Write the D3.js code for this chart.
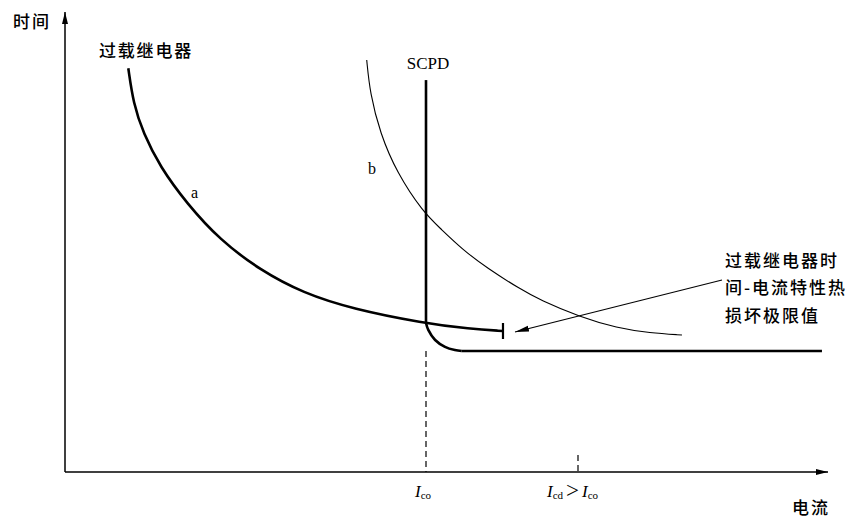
<!DOCTYPE html>
<html><head><meta charset="utf-8">
<script src="https://cdn.jsdelivr.net/npm/d3@7"></script>
<style>
html,body{margin:0;padding:0;background:#fff;}
svg{display:block;}
</style></head>
<body>
<svg id="chart" width="852" height="522"></svg>
<script>
// ---- data (abstract units: current 0..100, time 0..100) ----
const curveA = [[8.33,87.76],[8.99,80.15],[10.30,73.63],[12.50,66.37],[16.01,58.41],[20.39,50.43],[25.66,43.91],[31.32,38.91],[37.89,35.43],[47.11,32.39],[53.29,31.09],[57.63,30.65]];
const curveB = [[39.70,89.57],[40.13,82.39],[41.45,73.70],[43.68,65.00],[47.11,56.52],[49.34,53.04],[52.37,48.26],[55.53,44.35],[59.87,39.78],[62.50,37.39],[67.76,33.70],[72.63,31.30],[76.97,30.22],[81.18,29.78]];
const scpdVertical = [[47.5,85.2],[47.5,32.4]];
const scpdKnee = [[47.5,32.4],[47.8,30.9],[48.7,28.7],[50.0,27.2],[51.3,26.5],[52.2,26.3]];
const scpdFlat = [[52.2,26.3],[99.6,26.3]];
const Ico = 47.5, Icd = 67.5;
const arrowFrom = [86.45,41.74], arrowTo = [59.21,30.43];
const yLabel = "时间", xLabel = "电流";
const relayLabel = "过载继电器";
const noteLines = ["过载继电器时","间-电流特性热","损坏极限值"];

const svg = d3.select("#chart");
const x = d3.scaleLinear().domain([0,100]).range([65,825]);
const y = d3.scaleLinear().domain([0,100]).range([472,12]);
const cn = "'Noto Sans CJK SC','Noto Sans',sans-serif";
const serif = "'Liberation Serif','DejaVu Serif',serif";

const defs = svg.append("defs");
defs.append("marker").attr("id","ax").attr("viewBox","0 0 12 8").attr("refX",12).attr("refY",4)
  .attr("markerWidth",12).attr("markerHeight",8).attr("markerUnits","userSpaceOnUse").attr("orient","auto")
  .append("path").attr("d","M0,1 L12,4 L0,7 Z").attr("fill","#000");
defs.append("marker").attr("id","ar").attr("viewBox","0 0 14 8").attr("refX",14).attr("refY",4)
  .attr("markerWidth",14).attr("markerHeight",8).attr("markerUnits","userSpaceOnUse").attr("orient","auto")
  .append("path").attr("d","M0,1 L14,4 L0,7 Z").attr("fill","#000");

// axes
svg.append("line").attr("x1",x(0)).attr("y1",y(0)).attr("x2",x(0)).attr("y2",y(100))
  .attr("stroke","#000").attr("stroke-width",1.5).attr("marker-end","url(#ax)");
svg.append("line").attr("x1",x(0)).attr("y1",y(0)).attr("x2",x(100)+3).attr("y2",y(0))
  .attr("stroke","#000").attr("stroke-width",1.5).attr("marker-end","url(#ax)");

const line = d3.line().x(d=>x(d[0])).y(d=>y(d[1]));
const smooth = d3.line().x(d=>x(d[0])).y(d=>y(d[1])).curve(d3.curveBasis);

// curve a
svg.append("path").attr("d",smooth(curveA)).attr("fill","none").attr("stroke","#000").attr("stroke-width",2.6);
const aEnd = curveA[curveA.length-1];
svg.append("line").attr("x1",x(aEnd[0])).attr("x2",x(aEnd[0])).attr("y1",y(aEnd[1])-8).attr("y2",y(aEnd[1])+8)
  .attr("stroke","#000").attr("stroke-width",2.2);
// curve b
svg.append("path").attr("d",smooth(curveB)).attr("fill","none").attr("stroke","#000").attr("stroke-width",1.1);
// SCPD
svg.append("path").attr("d",line(scpdVertical)).attr("fill","none").attr("stroke","#000").attr("stroke-width",2.6);
svg.append("path").attr("d",d3.line().x(d=>x(d[0])).y(d=>y(d[1])).curve(d3.curveCatmullRom.alpha(0.5))(scpdKnee))
  .attr("fill","none").attr("stroke","#000").attr("stroke-width",2.6);
svg.append("path").attr("d",line(scpdFlat)).attr("fill","none").attr("stroke","#000").attr("stroke-width",2.6);

// dashed guides
svg.append("line").attr("x1",x(Ico)).attr("x2",x(Ico)).attr("y1",y(scpdFlat[0][1])).attr("y2",y(0))
  .attr("stroke","#000").attr("stroke-width",1.2).attr("stroke-dasharray","6,4");
svg.append("line").attr("x1",x(Icd)).attr("x2",x(Icd)).attr("y1",y(0)-17).attr("y2",y(0))
  .attr("stroke","#000").attr("stroke-width",1.2).attr("stroke-dasharray","6,4");

// arrow
svg.append("line").attr("x1",x(arrowFrom[0])).attr("y1",y(arrowFrom[1])).attr("x2",x(arrowTo[0])).attr("y2",y(arrowTo[1]))
  .attr("stroke","#000").attr("stroke-width",1.1).attr("marker-end","url(#ar)");

// texts
function cnText(t, xx, yy){
  return svg.append("text").attr("x",xx).attr("y",yy).text(t).attr("font-family",cn)
    .attr("font-size",17).attr("letter-spacing",2).attr("font-weight",500);
}
cnText(yLabel, 13, 28);
cnText(xLabel, 792, 514);
cnText(relayLabel, 99, 57).attr("letter-spacing",1.8);
noteLines.forEach((t,i)=> cnText(t, 725, 267+i*27.3));

svg.append("text").attr("x",x(Ico)+2).attr("y",y(85.2)-11).attr("text-anchor","middle").text("SCPD")
  .attr("font-family",serif).attr("font-size",17);
svg.append("text").attr("x",191).attr("y",198).text("a").attr("font-family",serif).attr("font-size",16);
svg.append("text").attr("x",368).attr("y",174).text("b").attr("font-family",serif).attr("font-size",16);

// I labels
const g1 = svg.append("text").attr("x",x(Ico)-11).attr("y",497).attr("font-family",serif).attr("font-size",17);
g1.append("tspan").attr("font-style","italic").text("I");
g1.append("tspan").attr("font-size",11).attr("dy",2).text("co");
const g2 = svg.append("text").attr("x",x(Icd)-31).attr("y",497).attr("font-family",serif).attr("font-size",17);
g2.append("tspan").attr("font-style","italic").text("I");
g2.append("tspan").attr("font-size",11).attr("dy",2).text("cd");
g2.append("tspan").attr("dy",-1).attr("dx",3).attr("font-size",23).text(">");
g2.append("tspan").attr("dy",-1).attr("dx",3).attr("font-style","italic").text("I");
g2.append("tspan").attr("font-size",11).attr("dy",2).text("co");
</script>
</body></html>
